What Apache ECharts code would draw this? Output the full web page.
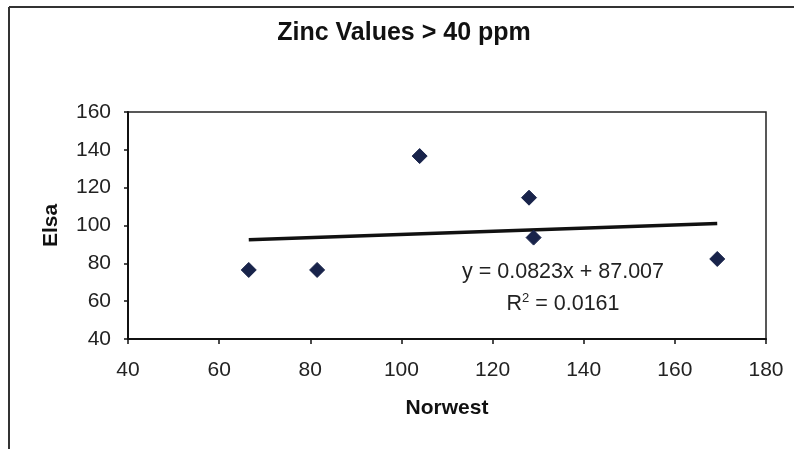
<!DOCTYPE html>
<html>
<head>
<meta charset="utf-8">
<script src="https://cdn.jsdelivr.net/npm/echarts@6/dist/echarts.min.js"></script>
<style>
html,body{margin:0;padding:0;background:#fff;}
#c{width:794px;height:449px;}
</style>
</head>
<body>
<div id="c"></div>
<script>
// Data
var norwest = [66.5, 81.5, 104, 128, 129, 169.3];
var elsa = [76.5, 76.5, 136.7, 114.7, 93.6, 82.3];
// Linear trendline endpoints (as drawn)
var trendX = [66.5, 169.3];
var trendY = [92.5, 101.0];
var xTicks = {min: 40, max: 180, interval: 20};
var yTicks = {min: 40, max: 160, interval: 20};
var titleText = 'Zinc Values > 40 ppm';
var xName = 'Norwest';
var yName = 'Elsa';
var eqLine = 'y = 0.0823x + 87.007';
var r2Value = '0.0161';

var pts = norwest.map(function (x, i) { return [x, elsa[i]]; });
var trend = trendX.map(function (x, i) { return [x, trendY[i]]; });

var chart = echarts.init(document.getElementById('c'), null, {renderer: 'canvas'});
var font = 'Liberation Sans, Arial, sans-serif';
chart.setOption({
  backgroundColor: '#fff',
  animation: false,
  title: {
    text: titleText, left: 399, textAlign: 'center', top: 16,
    textStyle: {fontFamily: font, fontSize: 25, fontWeight: 'bold', color: '#111'}
  },
  grid: {left: 128, right: 28, top: 112, bottom: 110, show: true, borderColor: '#222', borderWidth: 1.5},
  xAxis: {
    type: 'value', min: xTicks.min, max: xTicks.max, interval: xTicks.interval,
    name: xName, nameLocation: 'middle', nameGap: 59,
    nameTextStyle: {fontFamily: font, fontSize: 21, fontWeight: 'bold', color: '#111'},
    axisLine: {show: true, onZero: false, lineStyle: {color: '#111', width: 2}},
    axisTick: {show: true, inside: false, length: 5, lineStyle: {color: '#111', width: 1.5}},
    axisLabel: {fontFamily: font, fontSize: 21, color: '#222', margin: 21},
    splitLine: {show: false}
  },
  yAxis: {
    type: 'value', min: yTicks.min, max: yTicks.max, interval: yTicks.interval,
    name: yName, nameLocation: 'middle', nameGap: 66, nameRotate: 90,
    nameTextStyle: {fontFamily: font, fontSize: 21, fontWeight: 'bold', color: '#111'},
    axisLine: {show: true, onZero: false, lineStyle: {color: '#111', width: 2}},
    axisTick: {show: true, inside: false, length: 4, lineStyle: {color: '#111', width: 1.5}},
    axisLabel: {fontFamily: font, fontSize: 21, color: '#222', margin: 17},
    splitLine: {show: false}
  },
  series: [
    {
      type: 'line', data: trend, symbol: 'none', z: 2,
      lineStyle: {color: '#111', width: 3.5}
    },
    {
      type: 'scatter', data: pts, symbol: 'diamond', symbolSize: 15, z: 3,
      itemStyle: {color: '#18234a', borderColor: '#18234a', borderWidth: 1, opacity: 1}
    }
  ],
  graphic: [
    {type: 'line', shape: {x1: 9, y1: 7, x2: 794, y2: 7}, style: {stroke: '#333', lineWidth: 2}},
    {type: 'line', shape: {x1: 9, y1: 7, x2: 9, y2: 449}, style: {stroke: '#333', lineWidth: 2}},
    {type: 'text', x: 563, y: 272, style: {text: eqLine, font: '21.5px ' + font, fill: '#222', textAlign: 'center', textVerticalAlign: 'middle'}},
    {type: 'text', x: 563, y: 304, style: {
      text: '{n|R}{s|2}{n| = ' + r2Value + '}',
      textAlign: 'center', textVerticalAlign: 'middle',
      rich: {
        n: {fontFamily: font, fontSize: 21.5, fill: '#222', color: '#222'},
        s: {fontFamily: font, fontSize: 13, fill: '#222', color: '#222', verticalAlign: 'top', padding: [0, 0, 11, 0]}
      }
    }}
  ]
});
</script>
</body>
</html>
